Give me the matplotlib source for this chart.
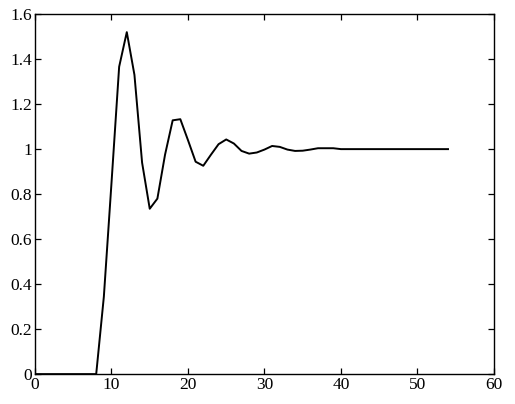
import numpy as np
import matplotlib
matplotlib.use("Agg")
import matplotlib.pyplot as plt

# step response samples
k = np.arange(0, 55)
response = [0, 0, 0, 0, 0, 0, 0, 0, 0, 0.344,
            0.85, 1.366, 1.52, 1.33, 0.94, 0.735, 0.78, 0.975, 1.128, 1.133,
            1.04, 0.944, 0.926, 0.975, 1.022, 1.043, 1.025, 0.992, 0.98, 0.985,
            0.998, 1.014, 1.01, 0.998, 0.992, 0.993, 0.998, 1.004, 1.004, 1.004,
            1.0, 1.0, 1.0, 1.0, 1.0, 1.0, 1.0, 1.0, 1.0, 1.0,
            1.0, 1.0, 1.0, 1.0, 1.0]

x_ticks = [0, 10, 20, 30, 40, 50, 60]
y_ticks = [0, 0.2, 0.4, 0.6, 0.8, 1.0, 1.2, 1.4, 1.6]
y_labels = ["0", "0.2", "0.4", "0.6", "0.8", "1", "1.2", "1.4", "1.6"]

plt.rcParams["font.family"] = ["Liberation Serif", "DejaVu Serif"]

fig = plt.figure(figsize=(5.15, 4.04), dpi=100)
ax = fig.add_axes([0.068, 0.074, 0.891, 0.891])
ax.plot(k, response, color="black", linewidth=1.4)

ax.set_xlim(0, 60)
ax.set_ylim(0, 1.6)
ax.set_xticks(x_ticks)
ax.set_yticks(y_ticks)
ax.set_yticklabels(y_labels)
ax.tick_params(direction="in", length=4, width=0.9, top=True, right=True,
               labelsize=12.5, colors="black", pad=2)
for spine in ax.spines.values():
    spine.set_linewidth(1.0)

fig.savefig("out.png", dpi=100)
